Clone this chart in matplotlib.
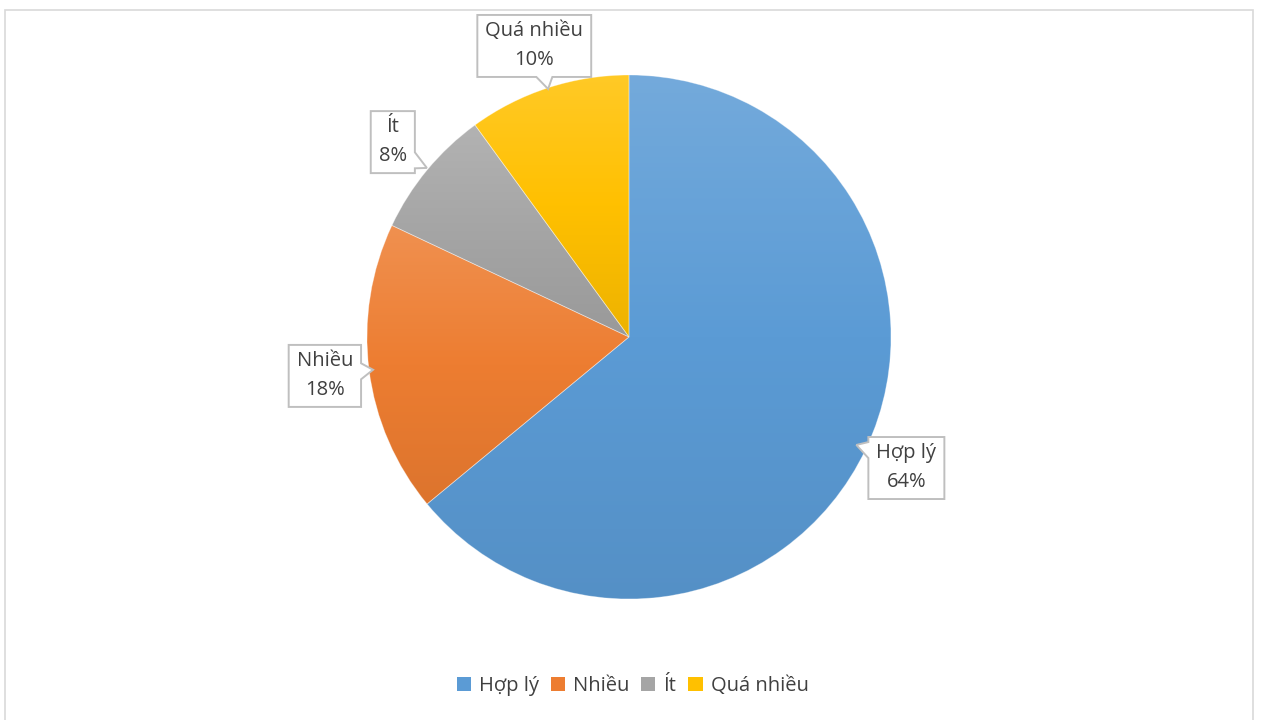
import numpy as np
import matplotlib
matplotlib.use("Agg")
import matplotlib.pyplot as plt
from matplotlib.patches import Patch, Polygon, Rectangle
from matplotlib.colors import to_rgb, LinearSegmentedColormap

# --------- data
labels = ["Hợp lý", "Nhiều", "Ít", "Quá nhiều"]
shares = [64, 18, 8, 10]
colors = ["#5b9bd5", "#ed7d31", "#a5a5a5", "#ffc000"]

W, H = 1265, 720
cx, cy, R = 629, H - 337, 262
text_col = "#404040"

plt.rcParams["font.family"] = ["Open Sans", "DejaVu Sans"]

fig = plt.figure(figsize=(W / 100, H / 100), dpi=100)
ax = fig.add_axes([0, 0, 1, 1])

wedges, _ = ax.pie(shares, colors=colors, startangle=90, counterclock=False,
                   center=(cx, cy), radius=R, frame=True,
                   wedgeprops=dict(linewidth=0))
ax.set_xlim(0, W)
ax.set_ylim(0, H)
ax.set_aspect("equal")
ax.axis("off")


def shade(c, k):
    r = np.array(to_rgb(c))
    if k > 0:
        return tuple(r + (1 - r) * k)
    return tuple(r * (1 + k))


# gradient fill per slice (lighter on top, darker at bottom)
for w, c in zip(wedges, colors):
    ext = w.get_path().get_extents()
    cmap = LinearSegmentedColormap.from_list(
        "g", [shade(c, -0.07), shade(c, 0.0), shade(c, 0.15)])
    grad = np.linspace(0, 1, 256).reshape(-1, 1)
    im = ax.imshow(grad, cmap=cmap, origin="lower", aspect="auto",
                   extent=[ext.x0, ext.x1, ext.y0, ext.y1], zorder=2)
    im.set_clip_path(w)
    w.set_facecolor("none")
    w.set_edgecolor((1, 1, 1, 0.35))
    w.set_linewidth(0.6)
    w.set_zorder(3)

ax.set_xlim(0, W)
ax.set_ylim(0, H)

# --------- callout labels
texts = []
start = 90
tot = sum(shares)
for lab, s in zip(labels, shares):
    ang = np.deg2rad(start - 360 * s / tot / 2)
    start -= 360 * s / tot
    tx = cx + 1.17 * R * np.cos(ang)
    ty = cy + 1.17 * R * np.sin(ang)
    t = ax.text(tx, ty, f"{lab}\n{s}%", ha="center", va="center", fontsize=14.5,
                color=text_col, linespacing=1.6, zorder=6)
    texts.append(t)

fig.canvas.draw()
inv = ax.transData.inverted()
for t in texts:
    bb = t.get_window_extent()
    (x0, y0), (x1, y1) = inv.transform([[bb.x0, bb.y0], [bb.x1, bb.y1]])
    x0 -= 8; x1 += 8; y0 -= 7; y1 += 6
    bx, by = (x0 + x1) / 2, (y0 + y1) / 2
    d = np.array([cx - bx, cy - by])
    d = d / np.hypot(*d)
    hw, hh = (x1 - x0) / 2, (y1 - y0) / 2
    sx = hw / abs(d[0]) if d[0] != 0 else np.inf
    sy = hh / abs(d[1]) if d[1] != 0 else np.inf
    half, tip = 8, 12
    if sx < sy:
        # left or right edge
        ey = np.clip(by + d[1] * sx, y0 + half, y1 - half)
        ex = x1 if d[0] > 0 else x0
        px, py = ex + np.sign(d[0]) * tip, ey + d[1] * tip
        if d[0] > 0:
            pts = [(x0, y0), (x1, y0), (x1, ey - half), (px, py), (x1, ey + half), (x1, y1), (x0, y1)]
        else:
            pts = [(x0, y0), (x1, y0), (x1, y1), (x0, y1), (x0, ey + half), (px, py), (x0, ey - half)]
    else:
        ex = np.clip(bx + d[0] * sy, x0 + half, x1 - half)
        ey = y1 if d[1] > 0 else y0
        px, py = ex + d[0] * tip, ey + np.sign(d[1]) * tip
        if d[1] > 0:
            pts = [(x0, y0), (x1, y0), (x1, y1), (ex + half, y1), (px, py), (ex - half, y1), (x0, y1)]
        else:
            pts = [(x0, y0), (ex - half, y0), (px, py), (ex + half, y0), (x1, y0), (x1, y1), (x0, y1)]
    ax.add_patch(Polygon(pts, closed=True, facecolor="white", edgecolor="#bfbfbf",
                         linewidth=1.4, zorder=5))

# --------- legend
handles = [Patch(facecolor=c, edgecolor="none") for c in colors]
fig.legend(handles, labels, loc="center", bbox_to_anchor=(0.5, 1 - 686 / H), ncol=4,
           frameon=False, fontsize=14.5, handlelength=0.7, handleheight=0.7,
           handletextpad=0.4, columnspacing=0.6, labelcolor=text_col)

# chart border
fig.patches.append(Rectangle((4.5 / W, -0.05), (1253 - 4.5) / W, 1.05 - 9.5 / H,
                             transform=fig.transFigure, fill=False,
                             edgecolor="#d9d9d9", linewidth=1.2))

fig.savefig("out.png", dpi=100)
